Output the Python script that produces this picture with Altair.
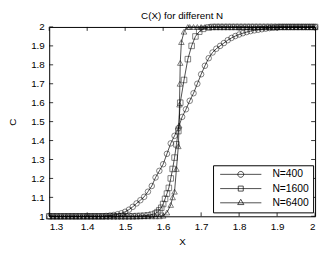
import altair as alt
import pandas as pd

# ---- data ----
series_names = ["N=400", "N=1600", "N=6400"]

x400 = [1.30, 1.31, 1.32, 1.33, 1.34, 1.35, 1.36, 1.37, 1.38, 1.39,
        1.40, 1.41, 1.42, 1.43, 1.44, 1.45, 1.46, 1.47, 1.48, 1.49,
        1.50, 1.51, 1.52, 1.53, 1.54, 1.55, 1.56, 1.57, 1.58, 1.59,
        1.60, 1.61, 1.62, 1.63, 1.64, 1.65, 1.66, 1.67, 1.68, 1.69,
        1.70, 1.71, 1.72, 1.73, 1.74, 1.75, 1.76, 1.77, 1.78, 1.79,
        1.80, 1.81, 1.82, 1.83, 1.84, 1.85, 1.86, 1.87, 1.88, 1.89,
        1.90, 1.91, 1.92, 1.93, 1.94, 1.95, 1.96, 1.97, 1.98, 1.99, 2.00]
c400 = [1.0, 1.0, 1.0, 1.0, 1.0, 1.0, 1.0, 1.0, 1.0, 1.0,
        1.0, 1.0, 1.0, 1.0, 1.0, 1.002, 1.004, 1.007, 1.011, 1.016,
        1.024, 1.035, 1.05, 1.068, 1.085, 1.103, 1.13, 1.16, 1.205, 1.24,
        1.275, 1.33, 1.385, 1.425, 1.465, 1.525, 1.565, 1.61, 1.65, 1.70,
        1.75, 1.795, 1.835, 1.865, 1.885, 1.90, 1.915, 1.93, 1.942, 1.952,
        1.96, 1.967, 1.973, 1.978, 1.982, 1.985, 1.988, 1.991, 1.994, 1.996,
        1.998, 2.0, 2.0, 2.0, 2.0, 2.0, 2.0, 2.0, 2.0, 2.0, 2.0]

x1600 = [1.30, 1.31, 1.32, 1.33, 1.34, 1.35, 1.36, 1.37, 1.38, 1.39,
         1.40, 1.41, 1.42, 1.43, 1.44, 1.45, 1.46, 1.47, 1.48, 1.49,
         1.50, 1.51, 1.52, 1.53, 1.54, 1.55, 1.56, 1.57,
         1.580, 1.585, 1.590, 1.595, 1.600, 1.605, 1.610, 1.615, 1.620,
         1.625, 1.630, 1.635, 1.640,
         1.645, 1.655, 1.665, 1.675, 1.685, 1.695, 1.705, 1.72,
         1.73, 1.74, 1.75, 1.76, 1.77, 1.78, 1.79, 1.80, 1.81, 1.82,
         1.83, 1.84, 1.85, 1.86, 1.87, 1.88, 1.89, 1.90, 1.91, 1.92,
         1.93, 1.94, 1.95, 1.96, 1.97, 1.98, 1.99, 2.00]
c1600 = [1.0, 1.0, 1.0, 1.0, 1.0, 1.0, 1.0, 1.0, 1.0, 1.0,
         1.0, 1.0, 1.0, 1.0, 1.0, 1.0, 1.0, 1.0, 1.0, 1.0,
         1.0, 1.0, 1.0, 1.001, 1.002, 1.003, 1.005, 1.009,
         1.015, 1.022, 1.032, 1.045, 1.065, 1.092, 1.12, 1.15, 1.20,
         1.25, 1.31, 1.38, 1.45,
         1.60, 1.72, 1.83, 1.90, 1.95, 1.975, 1.99, 1.997,
         2.0, 2.0, 2.0, 2.0, 2.0, 2.0, 2.0, 2.0, 2.0, 2.0,
         2.0, 2.0, 2.0, 2.0, 2.0, 2.0, 2.0, 2.0, 2.0, 2.0,
         2.0, 2.0, 2.0, 2.0, 2.0, 2.0, 2.0, 2.0]

x6400 = [1.30, 1.31, 1.32, 1.33, 1.34, 1.35, 1.36, 1.37, 1.38, 1.39,
         1.40, 1.41, 1.42, 1.43, 1.44, 1.45, 1.46, 1.47, 1.48, 1.49,
         1.50, 1.51, 1.52, 1.53, 1.54, 1.55, 1.56, 1.57, 1.58, 1.59,
         1.60, 1.61,
         1.62, 1.625, 1.63, 1.635, 1.64, 1.642, 1.643, 1.644, 1.645,
         1.648, 1.655, 1.665,
         1.67, 1.68, 1.69, 1.70, 1.71, 1.72, 1.73, 1.74, 1.75, 1.76,
         1.77, 1.78, 1.79, 1.80, 1.81, 1.82, 1.83, 1.84, 1.85, 1.86,
         1.87, 1.88, 1.89, 1.90, 1.91, 1.92, 1.93, 1.94, 1.95, 1.96,
         1.97, 1.98, 1.99, 2.00]
c6400 = [1.0, 1.0, 1.0, 1.0, 1.0, 1.0, 1.0, 1.0, 1.0, 1.0,
         1.0, 1.0, 1.0, 1.0, 1.0, 1.0, 1.0, 1.0, 1.0, 1.0,
         1.0, 1.0, 1.0, 1.0, 1.0, 1.0, 1.0, 1.0, 1.0, 1.0,
         1.003, 1.02,
         1.06, 1.10, 1.13, 1.25, 1.37, 1.48, 1.59, 1.70, 1.81,
         1.92, 1.975, 2.0,
         2.0, 2.0, 2.0, 2.0, 2.0, 2.0, 2.0, 2.0, 2.0, 2.0,
         2.0, 2.0, 2.0, 2.0, 2.0, 2.0, 2.0, 2.0, 2.0, 2.0,
         2.0, 2.0, 2.0, 2.0, 2.0, 2.0, 2.0, 2.0, 2.0, 2.0,
         2.0, 2.0, 2.0, 2.0]

x_ticks = [1.3, 1.4, 1.5, 1.6, 1.7, 1.8, 1.9, 2.0]
y_ticks = [1.0, 1.1, 1.2, 1.3, 1.4, 1.5, 1.6, 1.7, 1.8, 1.9, 2.0]

# ---- build tables ----
rows = []
for name, xs, cs in [("N=400", x400, c400), ("N=1600", x1600, c1600), ("N=6400", x6400, c6400)]:
    for xv, cv in zip(xs, cs):
        rows.append({"series": name, "x": xv, "c": cv})
df = pd.DataFrame(rows)
xt = pd.DataFrame({"x": x_ticks})
yt = pd.DataFrame({"c": y_ticks})
leg = pd.DataFrame({"series": series_names})

W, H = 271, 193
FONT = "Liberation Sans"
TL = 4  # inward tick length

xscale = alt.Scale(domain=[1.3, 2.0], nice=False, zero=False)
yscale = alt.Scale(domain=[1.0, 2.0], nice=False, zero=False)

xaxis = alt.Axis(values=x_ticks, format=".1~f", title="X", titleY=29,
                 titleBaseline="alphabetic", titleX=W / 2)
yaxis = alt.Axis(values=y_ticks, format=".1~f", title="C", titleX=-34.5,
                 titleY=H / 2, titleBaseline="alphabetic", titleAngle=-90)

X = alt.X("x:Q", scale=xscale, axis=xaxis)
Y = alt.Y("c:Q", scale=yscale, axis=yaxis)

base = alt.Chart(df)

lines = base.mark_line(color="black", strokeWidth=0.7).encode(
    x=X, y=Y, detail="series:N", order="x:Q",
)

points = base.mark_point(filled=False, color="black", strokeWidth=0.7, size=32).encode(
    x=X, y=Y,
    shape=alt.Shape("series:N",
                    scale=alt.Scale(domain=series_names,
                                    range=["circle", "square", "triangle-up"]),
                    legend=None),
)

leg_paths = [
    "M-7,0H7M1,0A1,1,0,1,1,-1,0A1,1,0,1,1,1,0",
    "M-7,0H7M-0.85,-0.85H0.85V0.85H-0.85Z",
    "M-7,0H7M0,-1.2L1.05,0.6L-1.05,0.6Z",
]

legend_layer = alt.Chart(leg).mark_point(filled=False, color="black", opacity=0, size=36).encode(
    x=alt.value(0),
    y=alt.value(0),
    shape=alt.Shape("series:N",
                    scale=alt.Scale(domain=series_names, range=leg_paths),
                    legend=alt.Legend(orient="none", legendX=167, legendY=141,
                                      title=None, padding=4,
                                      strokeColor="black", fillColor="white",
                                      symbolOffset=19, labelOffset=27,
                                      rowPadding=3.5, symbolSize=36,
                                      symbolStrokeWidth=0.7,
                                      symbolStrokeColor="black",
                                      symbolFillColor="transparent",
                                      symbolOpacity=1,
                                      labelFont=FONT, labelFontSize=10.5,
                                      labelColor="black")),
)

rule_style = dict(color="black", strokeWidth=0.8)
tick_bottom = alt.Chart(xt).mark_rule(**rule_style).encode(
    x=X, y=alt.value(H), y2=alt.value(H - TL))
tick_top = alt.Chart(xt).mark_rule(**rule_style).encode(
    x=X, y=alt.value(0), y2=alt.value(TL))
tick_left = alt.Chart(yt).mark_rule(**rule_style).encode(
    y=Y, x=alt.value(0), x2=alt.value(TL))
tick_right = alt.Chart(yt).mark_rule(**rule_style).encode(
    y=Y, x=alt.value(W), x2=alt.value(W - TL))

chart = alt.layer(
    lines, points, tick_bottom, tick_top, tick_left, tick_right, legend_layer
).resolve_scale(shape="independent").properties(
    width=W, height=H,
    title=alt.TitleParams("C(X) for different N", font=FONT, fontSize=10,
                          fontWeight="normal", color="black", offset=1,
                          anchor="middle"),
    autosize=alt.AutoSizeParams(type="none"),
    padding={"left": 42, "top": 17, "right": 4, "bottom": 30},
).configure_view(
    stroke="black", strokeWidth=1
).configure_axis(
    labelFont=FONT, labelFontSize=10, labelColor="black",
    titleFont=FONT, titleFontSize=10, titleFontWeight="normal", titleColor="black",
    ticks=False, domain=False, grid=False, labelPadding=5,
).configure_legend(
    strokeWidth=1, cornerRadius=0,
)

chart.save("out.html", embed_options={"renderer": "svg", "actions": False})
